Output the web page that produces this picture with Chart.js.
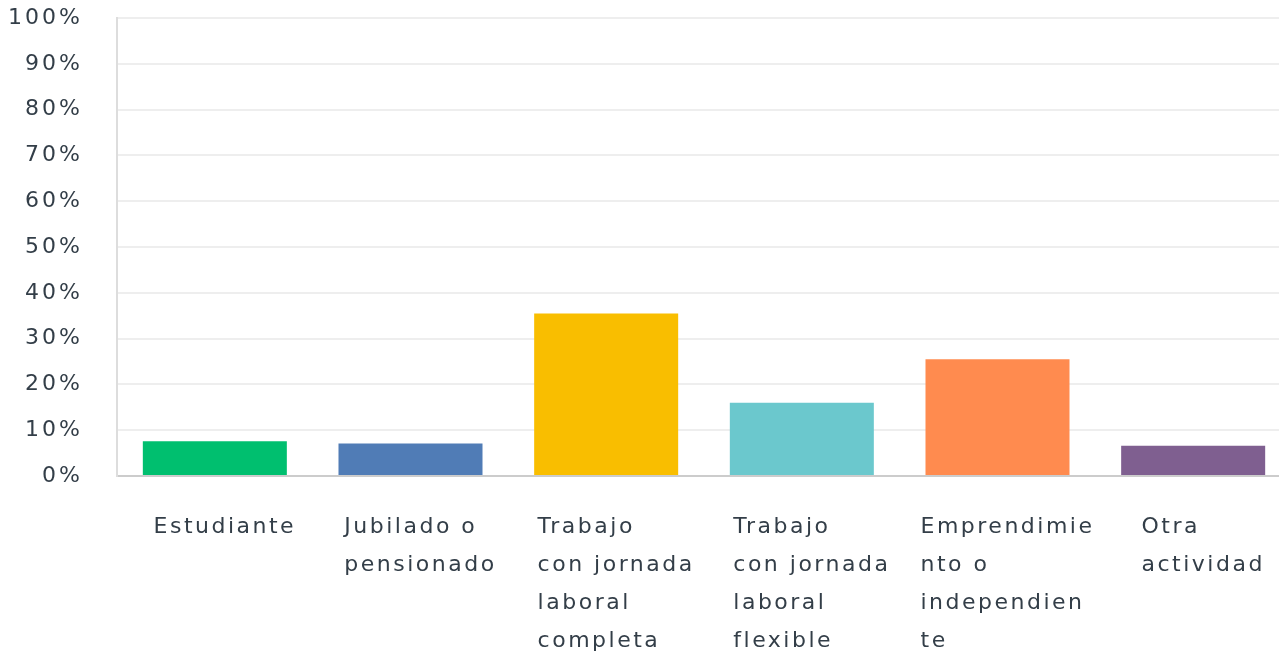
<!DOCTYPE html>
<html>
<head>
<meta charset="utf-8">
<script src="https://cdn.jsdelivr.net/npm/chart.js@4"></script>
<style>
  html, body { margin: 0; padding: 0; background: #fff; overflow: hidden; }
  #wrap { width: 1292px; height: 653px; }
</style>
</head>
<body>
<div id="wrap"><canvas id="myChart" width="1292" height="653"></canvas></div>
<script>
var categories = [
    ['Estudiante'],
    ['Jubilado o', 'pensionado'],
    ['Trabajo', 'con jornada', 'laboral', 'completa'],
    ['Trabajo', 'con jornada', 'laboral', 'flexible'],
    ['Emprendimie', 'nto o', 'independien', 'te'],
    ['Otra', 'actividad']
];
var values = [7.6, 7.1, 35.5, 16.0, 25.5, 6.6];
var colors = ['#00BF6F', '#507CB6', '#F9BE00', '#6BC8CD', '#FF8B4F', '#7F5F90'];
var yTicks = [0, 10, 20, 30, 40, 50, 60, 70, 80, 90, 100];

var textColor = '#333e48';
var fontFamily = '"DejaVu Sans", sans-serif';

// draws the wrapped category labels, lines left aligned inside a centred block
var categoryLabels = {
    id: 'categoryLabels',
    beforeDraw: function (chart) {
        // spacing for the y tick labels drawn by chart.js
        chart.ctx.letterSpacing = '3px';
    },
    afterDraw: function (chart) {
        var ctx = chart.ctx;
        var xScale = chart.scales.x;
        ctx.save();
        ctx.letterSpacing = '2.5px';
        ctx.font = '22px ' + fontFamily;
        ctx.fillStyle = textColor;
        ctx.textAlign = 'left';
        ctx.textBaseline = 'middle';
        categories.forEach(function (lines, i) {
            var maxW = 0;
            lines.forEach(function (l) { maxW = Math.max(maxW, ctx.measureText(l).width); });
            var left = xScale.getPixelForValue(i) + 10 - maxW / 2;
            lines.forEach(function (l, j) {
                ctx.fillText(l, left, chart.chartArea.bottom + 51 + j * 38);
            });
        });
        ctx.restore();
    }
};

var ctx = document.getElementById('myChart').getContext('2d');
var myChart = new Chart(ctx, {
    type: 'bar',
    data: {
        labels: categories.map(function (c) { return c.join(' '); }),
        datasets: [{
            data: values,
            backgroundColor: colors,
            borderWidth: 0,
            categoryPercentage: 1,
            barPercentage: 0.736
        }]
    },
    options: {
        responsive: false,
        animation: false,
        layout: { padding: { top: 18, right: 1, bottom: 177, left: 0 } },
        plugins: { legend: { display: false }, tooltip: { enabled: false } },
        scales: {
            x: {
                grid: { display: false, drawTicks: false },
                border: { color: '#cccccc', width: 2 },
                ticks: { display: false }
            },
            y: {
                min: 0,
                max: 100,
                afterBuildTicks: function (scale) {
                    scale.ticks = yTicks.map(function (v) { return { value: v }; });
                },
                afterFit: function (scale) {
                    scale.width = 117;
                    scale.paddingTop = 12;
                    scale.paddingBottom = 12;
                },
                grid: { color: '#eeeeee', lineWidth: 2, drawTicks: false },
                border: { color: '#dddddd', width: 2 },
                ticks: {
                    padding: 34,
                    color: textColor,
                    font: { family: fontFamily, size: 22 },
                    callback: function (v) { return v + '%'; }
                }
            }
        }
    },
    plugins: [categoryLabels]
});
</script>
</body>
</html>
